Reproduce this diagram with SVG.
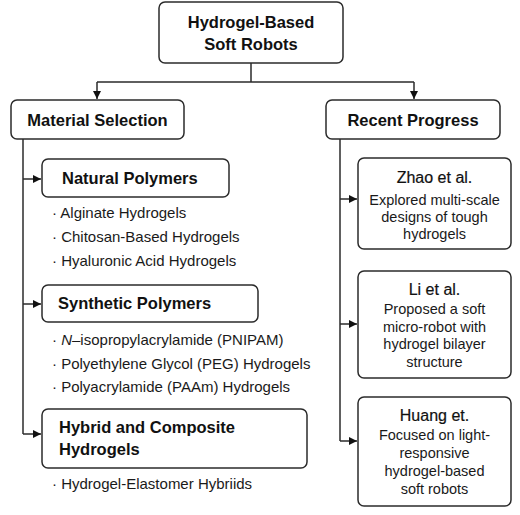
<svg xmlns="http://www.w3.org/2000/svg" width="520" height="515" viewBox="0 0 520 515">
<style>
.box{fill:#fff;stroke:#2b2b2b;stroke-width:1.5}
.ln{fill:none;stroke:#2b2b2b;stroke-width:1.5}
.h{font-family:"Liberation Sans",Arial,sans-serif;font-weight:bold;font-size:16.5px;fill:#111}
.t{font-family:"Liberation Sans",Arial,sans-serif;font-size:16px;fill:#111;stroke:#111;stroke-width:0.2}
.b{font-family:"Liberation Sans",Arial,sans-serif;font-size:14.5px;fill:#1a1a1a}
.li{font-family:"Liberation Sans",Arial,sans-serif;font-size:15px;fill:#1a1a1a}
</style>
<defs>
<marker id="ar" markerWidth="8" markerHeight="8" refX="8" refY="4" orient="auto" markerUnits="userSpaceOnUse">
<path d="M0,0 L8,4 L0,8 Z" fill="#111"/>
</marker>
</defs>
<rect width="520" height="515" fill="#fff"/>
<g id="connectors">
<path class="ln" d="M251,63 V82 M97,82 H414"/>
<path class="ln" d="M97,82 V99" marker-end="url(#ar)"/>
<path class="ln" d="M414,82 V99" marker-end="url(#ar)"/>
<path class="ln" d="M23,139 V434"/>
<path class="ln" d="M23,179 H41" marker-end="url(#ar)"/>
<path class="ln" d="M23,304 H41" marker-end="url(#ar)"/>
<path class="ln" d="M23,434 H41" marker-end="url(#ar)"/>
<path class="ln" d="M340,139 V441"/>
<path class="ln" d="M340,199 H357" marker-end="url(#ar)"/>
<path class="ln" d="M340,324 H357" marker-end="url(#ar)"/>
<path class="ln" d="M340,441 H357" marker-end="url(#ar)"/>
</g>
<g id="root">
<rect class="box" x="159" y="2" width="184" height="61" rx="6"/>
<text class="h" x="251" y="28" text-anchor="middle">Hydrogel-Based</text>
<text class="h" x="251" y="50" text-anchor="middle">Soft Robots</text>
</g>
<g id="material-selection">
<rect class="box" x="11" y="100" width="173" height="39" rx="6"/>
<text class="h" x="97.5" y="126" text-anchor="middle">Material Selection</text>
</g>
<g id="recent-progress">
<rect class="box" x="326" y="100" width="174" height="39" rx="6"/>
<text class="h" x="413" y="126" text-anchor="middle">Recent Progress</text>
</g>
<g id="natural-polymers">
<rect class="box" x="42" y="159" width="187" height="38" rx="6"/>
<text class="h" x="62" y="184">Natural Polymers</text>
<text class="li" x="52" y="218">· Alginate Hydrogels</text>
<text class="li" x="52" y="242">· Chitosan-Based Hydrogels</text>
<text class="li" x="52" y="266">· Hyaluronic Acid Hydrogels</text>
</g>
<g id="synthetic-polymers">
<rect class="box" x="42" y="285" width="216" height="37" rx="6"/>
<text class="h" x="58" y="309">Synthetic Polymers</text>
<text class="li" x="52" y="345">· <tspan font-style="italic">N</tspan>–isopropylacrylamide (PNIPAM)</text>
<text class="li" x="52" y="369">· Polyethylene Glycol (PEG) Hydrogels</text>
<text class="li" x="52" y="392">· Polyacrylamide (PAAm) Hydrogels</text>
</g>
<g id="hybrid-composite">
<rect class="box" x="42" y="409" width="265" height="59" rx="6"/>
<text class="h" x="59" y="433">Hybrid and Composite</text>
<text class="h" x="59" y="455">Hydrogels</text>
<text class="li" x="52" y="489">· Hydrogel-Elastomer Hybriids</text>
</g>
<g id="zhao">
<rect class="box" x="358" y="158" width="153" height="91" rx="6"/>
<text class="t" x="434.5" y="183" text-anchor="middle">Zhao et al.</text>
<text class="b" x="434.5" y="205" text-anchor="middle">Explored multi-scale</text>
<text class="b" x="434.5" y="222" text-anchor="middle">designs of tough</text>
<text class="b" x="434.5" y="239" text-anchor="middle">hydrogels</text>
</g>
<g id="li">
<rect class="box" x="358" y="271" width="153" height="107" rx="6"/>
<text class="t" x="434.5" y="295" text-anchor="middle">Li et al.</text>
<text class="b" x="434.5" y="314" text-anchor="middle">Proposed a soft</text>
<text class="b" x="434.5" y="332" text-anchor="middle">micro-robot with</text>
<text class="b" x="434.5" y="349" text-anchor="middle">hydrogel bilayer</text>
<text class="b" x="434.5" y="367" text-anchor="middle">structure</text>
</g>
<g id="huang">
<rect class="box" x="358" y="397" width="153" height="109" rx="6"/>
<text class="t" x="434.5" y="421" text-anchor="middle">Huang et.</text>
<text class="b" x="434.5" y="440" text-anchor="middle">Focused on light-</text>
<text class="b" x="434.5" y="458" text-anchor="middle">responsive</text>
<text class="b" x="434.5" y="476" text-anchor="middle">hydrogel-based</text>
<text class="b" x="434.5" y="494" text-anchor="middle">soft robots</text>
</g>
</svg>
